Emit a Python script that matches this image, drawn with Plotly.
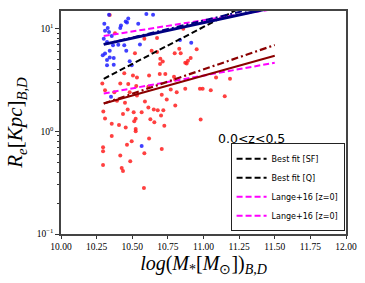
import plotly.graph_objects as go

# ---- data ----
sf_mass = [10.337, 10.304, 10.328, 10.309, 10.337, 10.356, 10.300, 10.323, 10.365, 10.402,
           10.342, 10.309, 10.342, 10.370, 10.323, 10.421, 10.416, 10.454, 10.472, 10.463,
           10.542, 10.599, 10.646, 10.458, 10.482, 10.444, 10.835, 10.914, 10.323, 10.370,
           10.496, 10.351, 10.566, 10.293, 10.554]
sf_re = [13.6, 11.1, 10.1, 9.5, 9.25, 8.45, 7.95, 7.38, 6.85, 6.95,
         6.07, 5.72, 5.23, 5.15, 4.93, 10.7, 10.1, 11.7, 12.5, 11.4,
         11.1, 13.8, 13.6, 6.07, 4.79, 6.85, 7.73, 7.27, 4.38, 4.44,
         4.38, 2.16, 0.72, 5.5, 7.0]

q_mass = [10.342, 10.379, 10.585, 10.674, 10.519, 10.674, 10.697, 10.636, 10.858, 10.830,
          10.798, 10.840, 10.910, 10.891, 10.882, 10.714, 10.695, 10.444, 10.505, 10.533,
          10.618, 10.693, 10.290, 10.416, 10.472, 10.528, 10.613, 10.309, 10.374, 10.533,
          10.482, 10.707, 10.393, 10.449, 10.589, 10.613, 10.468, 10.651, 10.679, 10.435,
          10.510, 10.566, 10.524, 10.702, 10.872, 10.732, 10.793, 10.802, 10.770, 10.872,
          10.812, 10.975, 10.994, 11.051, 11.149, 10.742, 10.802, 10.718, 10.980, 11.088,
          11.186, 10.309, 10.356, 10.407, 10.454, 10.514, 10.524, 10.524, 10.627, 10.655,
          10.356, 10.725, 10.295, 10.295, 10.496, 10.463, 10.618, 10.707, 10.585, 10.416,
          10.486, 10.295, 10.426, 10.435, 10.582, 10.297, 10.952]
q_re = [13.5, 8.98, 7.94, 8.07, 5.73, 5.90, 5.07, 6.07, 9.96, 6.35,
        5.73, 5.73, 5.15, 4.85, 4.57, 4.78, 4.51, 3.66, 3.49, 3.34,
        3.49, 3.60, 2.92, 2.92, 2.88, 2.75, 2.71, 2.51, 2.40, 2.23,
        2.40, 2.26, 1.98, 1.89, 1.95, 1.70, 1.63, 1.63, 1.60, 1.47,
        1.53, 1.53, 1.32, 1.42, 4.63, 3.60, 3.39, 3.19, 2.55, 2.59,
        2.40, 2.59, 2.59, 2.51, 2.19, 2.04, 1.78, 1.60, 1.30, 3.34,
        3.24, 1.33, 1.18, 1.15, 1.09, 1.25, 1.05, 1.00, 1.31, 1.22,
        0.90, 1.13, 0.70, 0.64, 0.80, 0.74, 0.85, 0.67, 0.61, 0.58,
        0.51, 0.47, 0.44, 0.41, 0.28, 1.56, 6.27]

fit_mass = [10.3, 11.5]
sf_fit = [7.0, 16.1]          # navy solid
sf_fit_dd = [7.0, 17.5]       # navy dash-dot
sf_bestfit = [3.24, 23.7]     # black dashed
q_fit = [1.86, 5.43]          # dark red solid
q_fit_dd = [1.86, 6.9]        # dark red dash-dot
lange_sf = [8.45, 15.5]       # magenta dashed (upper)
lange_q = [2.33, 4.64]        # magenta dashed (lower)

x_ticks = [10.00, 10.25, 10.50, 10.75, 11.00, 11.25, 11.50, 11.75, 12.00]
x_ticklabels = ["10.00", "10.25", "10.50", "10.75", "11.00", "11.25", "11.50", "11.75", "12.00"]
y_ticks = [0.1, 1, 10]
y_ticklabels = ["10<sup>−1</sup>", "10<sup>0</sup>", "10<sup>1</sup>"]
y_minor = [0.2, 0.3, 0.4, 0.5, 0.6, 0.7, 0.8, 0.9, 2, 3, 4, 5, 6, 7, 8, 9]

fig = go.Figure()

fig.add_trace(go.Scatter(x=q_mass, y=q_re, mode="markers", showlegend=False,
                         marker=dict(color="rgba(255,30,30,0.85)", size=4, line=dict(width=0))))
fig.add_trace(go.Scatter(x=sf_mass, y=sf_re, mode="markers", showlegend=False,
                         marker=dict(color="rgba(30,30,255,0.85)", size=4, line=dict(width=0))))

fig.add_trace(go.Scatter(x=fit_mass, y=sf_bestfit, mode="lines", name="Best fit [SF]",
                         line=dict(color="black", width=2, dash="6px,3px")))
fig.add_trace(go.Scatter(x=[None], y=[None], mode="lines", name="Best fit [Q]",
                         line=dict(color="black", width=2, dash="6px,3px")))
fig.add_trace(go.Scatter(x=fit_mass, y=lange_sf, mode="lines", name="Lange+16 [z=0]",
                         line=dict(color="magenta", width=2, dash="6px,3px")))
fig.add_trace(go.Scatter(x=fit_mass, y=lange_q, mode="lines", name="Lange+16 [z=0]",
                         line=dict(color="magenta", width=2, dash="6px,3px")))
fig.add_trace(go.Scatter(x=fit_mass, y=sf_fit_dd, mode="lines", showlegend=False,
                         line=dict(color="navy", width=2, dash="7px,3px,2px,3px")))
fig.add_trace(go.Scatter(x=fit_mass, y=sf_fit, mode="lines", showlegend=False,
                         line=dict(color="navy", width=3)))
fig.add_trace(go.Scatter(x=fit_mass, y=q_fit_dd, mode="lines", showlegend=False,
                         line=dict(color="darkred", width=2.2, dash="7px,3px,2px,3px")))
fig.add_trace(go.Scatter(x=fit_mass, y=q_fit, mode="lines", showlegend=False,
                         line=dict(color="darkred", width=2)))

fig.add_annotation(x=0.67, y=0.43, xref="paper", yref="paper", text="0.0&lt;z&lt;0.5",
                   xanchor="center", yanchor="middle",
                   showarrow=False, font=dict(family="DejaVu Sans", size=12.5, color="black"))

serif = "Liberation Serif"
fig.update_xaxes(range=[10, 12], tickvals=x_ticks, ticktext=x_ticklabels, automargin=False,
                 ticks="outside", ticklen=3, tickwidth=1, tickcolor="#333",
                 showline=True, mirror=True, linecolor="#444", linewidth=1.5,
                 showgrid=False, zeroline=False,
                 tickfont=dict(family=serif, size=9.5, color="black"),
                 title=dict(text="<i>log</i>(<i>M</i><sub>*</sub>[<i>M</i><sub>⊙</sub>])<sub><i>B,D</i></sub>",
                            font=dict(family=serif, size=20, color="black"), standoff=1))
fig.update_yaxes(type="log", range=[-1, 1.17], tickvals=y_ticks, ticktext=y_ticklabels, automargin=False,
                 ticks="outside", ticklen=4, tickwidth=1, tickcolor="#333",
                 minor=dict(tickvals=y_minor, ticks="outside", ticklen=2, tickcolor="#333"),
                 showline=True, mirror=True, linecolor="#444", linewidth=1.5,
                 showgrid=False, zeroline=False,
                 tickfont=dict(family=serif, size=9.5, color="black"),
                 title=dict(text="<i>R</i><sub><i>e</i></sub>[<i>Kpc</i>]<sub><i>B,D</i></sub>",
                            font=dict(family=serif, size=21, color="black"), standoff=8))

fig.update_layout(width=365, height=283, margin=dict(l=61, r=19, t=11, b=49, autoexpand=False),
                  paper_bgcolor="white", plot_bgcolor="white",
                  legend=dict(x=0.995, y=0.012, xanchor="right", yanchor="bottom",
                              bgcolor="white", bordercolor="#222", borderwidth=1,
                              font=dict(family="DejaVu Sans", size=8, color="black"),
                              tracegroupgap=0, itemwidth=30))

fig.write_html("out.html", config={"displayModeBar": False},
               post_script="document.body.style.margin='0px';")
